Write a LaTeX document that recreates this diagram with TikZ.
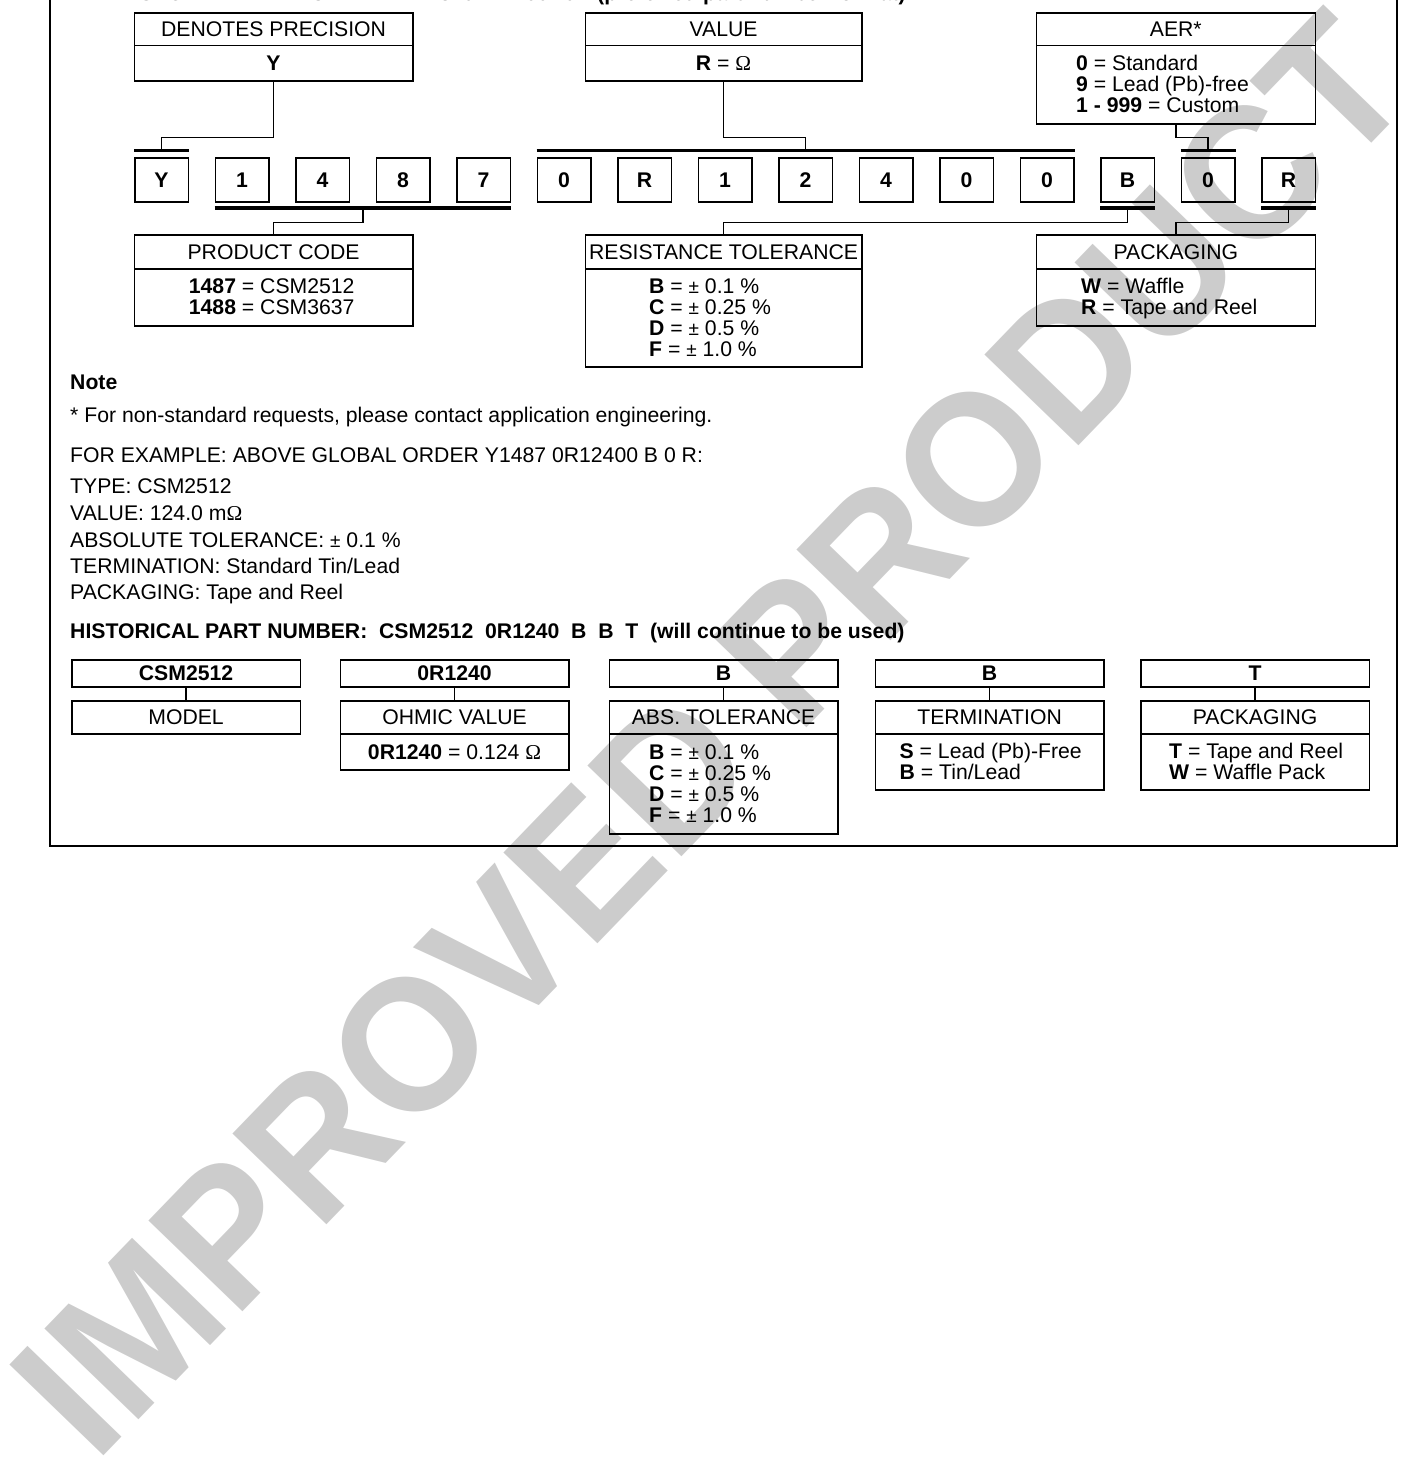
\documentclass[tikz,border=0pt]{standalone}
\usepackage{fontspec}
\setmainfont{Liberation Sans}
\newfontfamily\symf{Liberation Serif}
\usetikzlibrary{calc}
\newcommand{\fsz}{\fontsize{21.2pt}{21.3pt}\selectfont}
\newcommand{\Om}{{\symf\symbol{"03A9}}}
\newcommand{\pmsym}{{\fontsize{19pt}{19pt}\selectfont ±}}
\begin{document}
\begin{tikzpicture}[x=1pt,y=-1pt,
  bx/.style={draw, line width=1.6pt, inner sep=0pt, anchor=north west, font=\fsz, text height=15.2pt, text depth=0pt},
  nb/.style={bx, minimum width=53.5pt, minimum height=44pt, font=\fsz\bfseries},
  ln/.style={anchor=base west, inner sep=0pt, font=\fsz},
  bar/.style={line width=3.5pt},
  cn/.style={line width=1.6pt},
  frame/.style={line width=2pt}]
\useasboundingbox (0,0) rectangle (1421,1459);
% watermark
\node[font=\fontsize{190pt}{190pt}\selectfont\bfseries, text=black!20, rotate=46, inner sep=0pt] (wm) at (710,734) {\scalebox{0.95}[1]{IMPROVED PRODUCT}};
% clipped title
\node[ln, font=\fsz\bfseries] (title) at (138,0) {GLOBAL PART NUMBER: Y14870R12400B0R (preferred part number format)};
% frame
\coordinate (f1) at (50,-5); \coordinate (f2) at (50,846);
\coordinate (f3) at (1397,846); \coordinate (f4) at (1397,-5);
\draw[frame] (f1) -- (f2) -- (f3) -- (f4);
% top boxes
\node[bx, minimum width=278.5pt, minimum height=32.5pt] (denH) at (133.5,12) {DENOTES PRECISION};
\node[bx, minimum width=278.5pt, minimum height=35.5pt, font=\fsz\bfseries] (denB) at (133.5,44.5) {Y};
\node[bx, minimum width=276.5pt, minimum height=32.5pt] (valH) at (584.5,12) {VALUE};
\node[bx, minimum width=276.5pt, minimum height=35.5pt] (valB) at (584.5,44.5) {\textbf{R} = \Om};
\node[bx, minimum width=279pt, minimum height=32.5pt] (aerH) at (1035.5,12) {AER*};
\node[bx, minimum width=279pt, minimum height=78.5pt] (aerB) at (1035.5,44.5) {};
\node[ln] (aer1) at (1076,70.5) {\textbf{0} = Standard};
\node[ln] (aer2) at (1076,91.5) {\textbf{9} = Lead (Pb)-free};
\node[ln] (aer3) at (1076,112.5) {\textbf{1 - 999} = Custom};
% number row
\foreach \c [count=\i from 0] in {Y,1,4,8,7,0,R,1,2,4,0,0,B,0,R}
  \node[nb] (n\i) at ({134+80.5*\i},157) {\c};
% bars
\coordinate (yb1) at ([yshift=6.5pt]n0.north west); \coordinate (yb2) at ([yshift=6.5pt]n0.north east);
\coordinate (vb1) at ([yshift=6.5pt]n5.north west); \coordinate (vb2) at ([yshift=6.5pt]n11.north east);
\coordinate (ab1) at ([yshift=6.5pt]n13.north west); \coordinate (ab2) at ([yshift=6.5pt]n13.north east);
\coordinate (pb1) at ([yshift=-5.5pt]n1.south west); \coordinate (pb2) at ([yshift=-5.5pt]n4.south east);
\coordinate (bb1) at ([yshift=-5.5pt]n12.south west); \coordinate (bb2) at ([yshift=-5.5pt]n12.south east);
\coordinate (rb1) at ([yshift=-5.5pt]n14.south west); \coordinate (rb2) at ([yshift=-5.5pt]n14.south east);
\foreach \b in {yb,vb,ab,pb,bb,rb} \draw[bar] (\b1) -- (\b2);
% connectors to top boxes
\draw[cn] (denB.south) -- ++(0,56) -| ($(yb1)!0.5!(yb2)$);
\draw[cn] (valB.south) -- ++(0,56) -| ($(vb1)!0.5!(vb2)$);
\draw[cn] (aerB.south) -- ++(0,13) -| ($(ab1)!0.5!(ab2)$);
% middle boxes
\node[bx, minimum width=278.5pt, minimum height=34pt] (pcH) at (133.5,234) {PRODUCT CODE};
\node[bx, minimum width=278.5pt, minimum height=57pt] (pcB) at (133.5,268) {};
\node[ln] (pc1) at (188.7,293) {\textbf{1487} = CSM2512};
\node[ln] (pc2) at (188.7,314) {\textbf{1488} = CSM3637};
\node[bx, minimum width=276.5pt, minimum height=34pt] (rtH) at (584.5,234) {RESISTANCE TOLERANCE};
\node[bx, minimum width=276.5pt, minimum height=98pt] (rtB) at (584.5,268) {};
\node[ln] (rt1) at (649,293) {\textbf{B} = \pmsym{} 0.1 \%};
\node[ln] (rt2) at (649,314) {\textbf{C} = \pmsym{} 0.25 \%};
\node[ln] (rt3) at (649,335) {\textbf{D} = \pmsym{} 0.5 \%};
\node[ln] (rt4) at (649,356) {\textbf{F} = \pmsym{} 1.0 \%};
\node[bx, minimum width=279pt, minimum height=34pt] (pkH) at (1035.5,234) {PACKAGING};
\node[bx, minimum width=279pt, minimum height=57pt] (pkB) at (1035.5,268) {};
\node[ln] (pk1) at (1081,293) {\textbf{W} = Waffle};
\node[ln] (pk2) at (1081,314) {\textbf{R} = Tape and Reel};
% connectors to middle boxes
\draw[cn] ($(pb1)!0.5!(pb2)$) -- ++(0,14.5) -| (pcH.north);
\draw[cn] ($(bb1)!0.5!(bb2)$) -- ++(0,14.5) -| (rtH.north);
\draw[cn] ($(rb1)!0.5!(rb2)$) -- ++(0,14.5) -| (pkH.north);
% notes
\node[ln, font=\fsz\bfseries] (note) at (70,389.5) {Note};
\node[ln] (t1) at (70,422.5) {* For non-standard requests, please contact application engineering.};
\node[ln] (t2) at (70,462.5) {FOR EXAMPLE: ABOVE GLOBAL ORDER Y1487 0R12400 B 0 R:};
\node[ln] (t3) at (70,493.5) {TYPE: CSM2512};
\node[ln] (t4) at (70,520.5) {VALUE: 124.0 m\Om};
\node[ln] (t5) at (70,547.5) {ABSOLUTE TOLERANCE: \pmsym{} 0.1 \%};
\node[ln] (t6) at (70,573.5) {TERMINATION: Standard Tin/Lead};
\node[ln] (t7) at (70,599.5) {PACKAGING: Tape and Reel};
\node[ln, font=\fsz\bfseries] (t8) at (70,638.5) {HISTORICAL PART NUMBER:\ \ CSM2512\ \ 0R1240\ \ B\ \ B\ \ T\ \ (will continue to be used)};
% bottom boxes
\tikzset{tb/.style={bx, minimum width=228.5pt, minimum height=27pt, font=\fsz\bfseries},
         hb/.style={bx, minimum width=228.5pt, minimum height=33pt}}
\node[tb] (mT) at (71,659) {CSM2512};
\node[hb] (mH) at (71,700) {MODEL};
\node[tb] (oT) at (339.5,659) {0R1240};
\node[hb] (oH) at (339.5,700) {OHMIC VALUE};
\node[hb, minimum height=36pt] (oB) at (339.5,733) {\textbf{0R1240} = 0.124 \Om};
\node[tb] (aT) at (608.5,659) {B};
\node[hb] (aH) at (608.5,700) {ABS. TOLERANCE};
\node[hb, minimum height=100pt] (aB) at (608.5,733) {};
\node[ln] (a1) at (649,759) {\textbf{B} = \pmsym{} 0.1 \%};
\node[ln] (a2) at (649,780) {\textbf{C} = \pmsym{} 0.25 \%};
\node[ln] (a3) at (649,801) {\textbf{D} = \pmsym{} 0.5 \%};
\node[ln] (a4) at (649,822) {\textbf{F} = \pmsym{} 1.0 \%};
\node[tb] (tT) at (874.5,659) {B};
\node[hb] (tH) at (874.5,700) {TERMINATION};
\node[hb, minimum height=56pt] (tB) at (874.5,733) {};
\node[ln] (te1) at (899.5,758.5) {\textbf{S} = Lead (Pb)-Free};
\node[ln] (te2) at (899.5,779.5) {\textbf{B} = Tin/Lead};
\node[tb] (kT) at (1140,659) {T};
\node[hb] (kH) at (1140,700) {PACKAGING};
\node[hb, minimum height=56pt] (kB) at (1140,733) {};
\node[ln] (k1) at (1169,758.5) {\textbf{T} = Tape and Reel};
\node[ln] (k2) at (1169,779.5) {\textbf{W} = Waffle Pack};
\foreach \p in {m,o,a,t,k} \draw[cn] (\p T.south) -- (\p H.north);
\end{tikzpicture}
\end{document}
